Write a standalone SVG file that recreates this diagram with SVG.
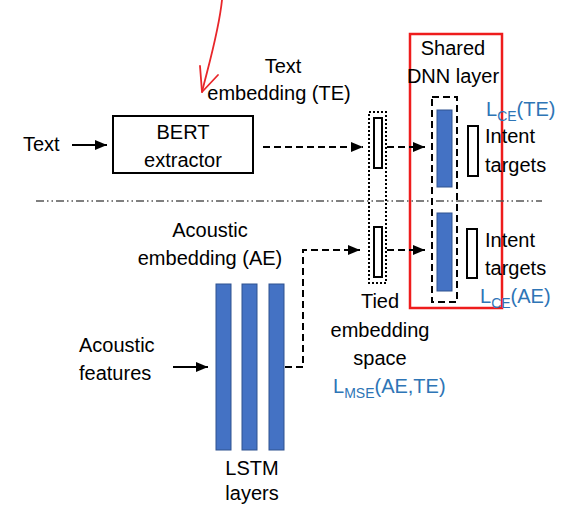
<svg xmlns="http://www.w3.org/2000/svg" width="584" height="511" viewBox="0 0 584 511">
<defs>
<style>
text{font-family:"Liberation Sans",Arial,sans-serif;font-size:20px;fill:#000}
.c{text-anchor:middle}
.blue{fill:#2e75b6}
.bar{fill:#4472c4;stroke:#2f528f;stroke-width:1}
.solid{fill:none;stroke:#000;stroke-width:2}
.dash{fill:none;stroke:#000;stroke-width:2;stroke-dasharray:7 4}
.ah{fill:#000;stroke:none}
</style>
<marker id="arr" viewBox="0 0 12 10" refX="12" refY="5" markerWidth="12" markerHeight="10" markerUnits="userSpaceOnUse" orient="auto">
<path class="ah" d="M0,0 L12,5 L0,10 Z"/>
</marker>
</defs>
<rect width="584" height="511" fill="#fff"/>

<g id="annotation">
<path d="M222,0 C219,30 210,60 202,92" fill="none" stroke="#e8262a" stroke-width="1.8" stroke-linecap="round"/>
<path d="M200,66 L202,92 L218,75" fill="none" stroke="#e8262a" stroke-width="1.8" stroke-linecap="round" stroke-linejoin="round"/>
<rect x="410" y="34" width="92" height="274" fill="none" stroke="#ee1c1c" stroke-width="2.5"/>
</g>

<g id="separator">
<line x1="36" y1="201" x2="542" y2="201" stroke="#555" stroke-width="1.5" stroke-dasharray="8 3 1.5 3 1.5 3"/>
</g>

<g id="text-input"><text x="23" y="151">Text</text></g>

<g id="bert">
<rect x="113" y="116" width="140" height="57" class="solid"/>
<text class="c" x="183" y="139">BERT</text>
<text class="c" x="183" y="167">extractor</text>
</g>

<g id="te-label">
<text class="c" x="283" y="73">Text</text>
<text class="c" x="279" y="100">embedding (TE)</text>
</g>

<g id="ae-label">
<text class="c" x="210" y="237">Acoustic</text>
<text class="c" x="210" y="265">embedding (AE)</text>
</g>

<g id="acoustic-input">
<text x="79" y="352">Acoustic</text>
<text x="79" y="380">features</text>
</g>

<g id="lstm">
<rect class="bar" x="216" y="284" width="15" height="166"/>
<rect class="bar" x="242" y="284" width="15" height="166"/>
<rect class="bar" x="269" y="284" width="15" height="166"/>
<text class="c" x="252" y="475">LSTM</text>
<text class="c" x="252" y="500">layers</text>
</g>

<g id="tied-space">
<rect x="369" y="112" width="17" height="171" fill="none" stroke="#000" stroke-width="2" stroke-dasharray="2 2"/>
<rect x="374" y="118" width="8" height="50" fill="#fff" stroke="#000" stroke-width="2"/>
<rect x="374" y="227" width="8" height="50" fill="#fff" stroke="#000" stroke-width="2"/>
<text class="c" x="380" y="308">Tied</text>
<text class="c" x="380" y="337">embedding</text>
<text class="c" x="380" y="365">space</text>
<text x="333" y="393" class="blue">L<tspan font-size="14" dy="5">MSE</tspan><tspan dy="-5">(AE,TE)</tspan></text>
</g>

<g id="shared-dnn">
<text class="c" x="453" y="55">Shared</text>
<text class="c" x="453" y="83">DNN layer</text>
<rect x="432" y="97" width="25" height="205" class="dash"/>
<rect class="bar" x="437" y="110" width="15" height="77"/>
<rect class="bar" x="437" y="213" width="15" height="78"/>
</g>

<g id="intent-te">
<rect x="468" y="126" width="10" height="50" fill="#fff" stroke="#000" stroke-width="2"/>
<text x="486" y="116" class="blue">L<tspan font-size="14" dy="5">CE</tspan><tspan dy="-5">(TE)</tspan></text>
<text x="485" y="143">Intent</text>
<text x="485" y="172">targets</text>
</g>

<g id="intent-ae">
<rect x="467" y="229" width="10" height="49" fill="#fff" stroke="#000" stroke-width="2"/>
<text x="485" y="247">Intent</text>
<text x="485" y="275">targets</text>
<text x="480" y="303" class="blue">L<tspan font-size="14" dy="5">CE</tspan><tspan dy="-5">(AE)</tspan></text>
</g>

<g id="connectors">
<line x1="72" y1="145" x2="107" y2="145" class="solid" marker-end="url(#arr)"/>
<line x1="173" y1="367" x2="208" y2="367" class="solid" marker-end="url(#arr)"/>
<line x1="263" y1="147" x2="363" y2="147" class="dash" marker-end="url(#arr)"/>
<polyline points="285,367 303,367 303,250 360,250" class="dash" marker-end="url(#arr)"/>
<line x1="387" y1="147" x2="425" y2="147" class="dash" marker-end="url(#arr)"/>
<line x1="387" y1="250" x2="425" y2="250" class="dash" marker-end="url(#arr)"/>
</g>
</svg>
